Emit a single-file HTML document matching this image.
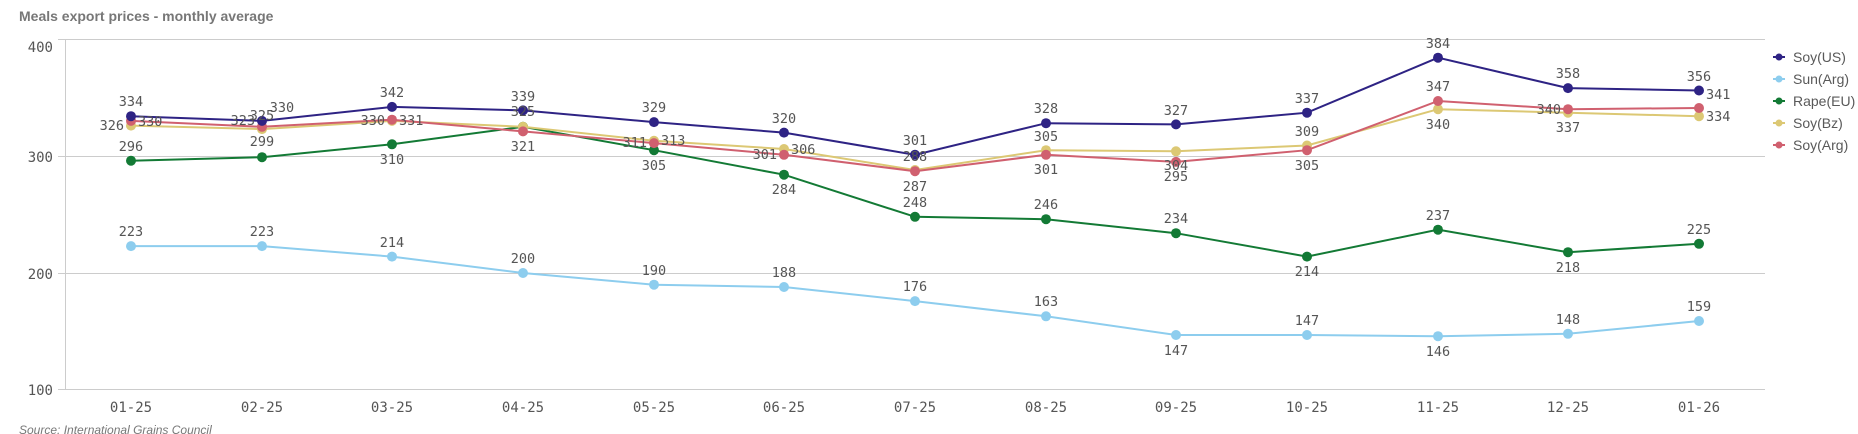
<!DOCTYPE html>
<html><head><meta charset="utf-8"><style>
body{margin:0;background:#fff;width:1858px;height:434px;overflow:hidden}
svg{display:block}
.t{font-family:"Liberation Sans",sans-serif;font-weight:bold;font-size:14px;fill:#777}
.ax{font-family:"DejaVu Sans Mono","Liberation Mono",monospace;font-size:14px;fill:#555}
.l{font-family:"DejaVu Sans Mono","Liberation Mono",monospace;font-size:13.5px;fill:#555}
.lg{font-family:"Liberation Sans",sans-serif;font-size:14px;fill:#595959}
.src{font-family:"Liberation Sans",sans-serif;font-style:italic;font-size:12px;fill:#777}
</style></head><body>
<svg width="1858" height="434" xmlns="http://www.w3.org/2000/svg">
<text class="t" x="19" y="21">Meals export prices - monthly average</text>
<g stroke="#ccc" stroke-width="1">
<line x1="58" y1="39.5" x2="1765" y2="39.5"/><line x1="58" y1="156.5" x2="1765" y2="156.5"/>
<line x1="58" y1="273.5" x2="1765" y2="273.5"/><line x1="58" y1="389.5" x2="1765" y2="389.5"/>
<line x1="65.5" y1="39" x2="65.5" y2="390"/>
</g>
<g class="ax" text-anchor="end">
<text x="53" y="52">400</text><text x="53" y="162">300</text><text x="53" y="279">200</text><text x="53" y="395">100</text>
</g>
<g class="ax" text-anchor="middle">
<text x="131" y="412">01-25</text><text x="262" y="412">02-25</text><text x="392" y="412">03-25</text><text x="523" y="412">04-25</text><text x="654" y="412">05-25</text><text x="784" y="412">06-25</text><text x="915" y="412">07-25</text><text x="1046" y="412">08-25</text><text x="1176" y="412">09-25</text><text x="1307" y="412">10-25</text><text x="1438" y="412">11-25</text><text x="1568" y="412">12-25</text><text x="1699" y="412">01-26</text>
</g>
<text class="src" x="19" y="434">Source: International Grains Council</text>

<g fill="#8dcdee"><polyline fill="none" stroke="#8dcdee" stroke-width="2" points="131,246.1 262,246.1 392,256.6 523,273 654,284.7 784,287 915,301.1 1046,316.3 1176,335 1307,335 1438,336.2 1568,333.8 1699,321"/>
<circle cx="131" cy="246.1" r="5"/><circle cx="262" cy="246.1" r="5"/><circle cx="392" cy="256.6" r="5"/><circle cx="523" cy="273" r="5"/><circle cx="654" cy="284.7" r="5"/><circle cx="784" cy="287" r="5"/><circle cx="915" cy="301.1" r="5"/><circle cx="1046" cy="316.3" r="5"/><circle cx="1176" cy="335" r="5"/><circle cx="1307" cy="335" r="5"/><circle cx="1438" cy="336.2" r="5"/><circle cx="1568" cy="333.8" r="5"/><circle cx="1699" cy="321" r="5"/></g>
<g fill="#137a35"><polyline fill="none" stroke="#137a35" stroke-width="2" points="131,160.7 262,157.2 392,144.3 523,126.8 654,150.2 784,174.7 915,216.8 1046,219.2 1176,233.2 1307,256.6 1438,229.7 1568,252.2 1699,243.8"/>
<circle cx="131" cy="160.7" r="5"/><circle cx="262" cy="157.2" r="5"/><circle cx="392" cy="144.3" r="5"/><circle cx="523" cy="126.8" r="5"/><circle cx="654" cy="150.2" r="5"/><circle cx="784" cy="174.7" r="5"/><circle cx="915" cy="216.8" r="5"/><circle cx="1046" cy="219.2" r="5"/><circle cx="1176" cy="233.2" r="5"/><circle cx="1307" cy="256.6" r="5"/><circle cx="1438" cy="229.7" r="5"/><circle cx="1568" cy="252.2" r="5"/><circle cx="1699" cy="243.8" r="5"/></g>
<g fill="#dcc874"><polyline fill="none" stroke="#dcc874" stroke-width="2" points="131,125.6 262,129.1 392,120.9 523,126.8 654,140.8 784,149 915,170 1046,150.2 1176,151.3 1307,145.5 1438,109.2 1568,112.7 1699,116.2"/>
<circle cx="131" cy="125.6" r="5"/><circle cx="262" cy="129.1" r="5"/><circle cx="392" cy="120.9" r="5"/><circle cx="523" cy="126.8" r="5"/><circle cx="654" cy="140.8" r="5"/><circle cx="784" cy="149" r="5"/><circle cx="915" cy="170" r="5"/><circle cx="1046" cy="150.2" r="5"/><circle cx="1176" cy="151.3" r="5"/><circle cx="1307" cy="145.5" r="5"/><circle cx="1438" cy="109.2" r="5"/><circle cx="1568" cy="112.7" r="5"/><circle cx="1699" cy="116.2" r="5"/></g>
<g fill="#d0606f"><polyline fill="none" stroke="#d0606f" stroke-width="2" points="131,120.9 262,126.8 392,119.7 523,131.4 654,143.1 784,154.8 915,171.2 1046,154.8 1176,161.9 1307,150.2 1438,101 1568,109.2 1699,108"/>
<circle cx="131" cy="120.9" r="5"/><circle cx="262" cy="126.8" r="5"/><circle cx="392" cy="119.7" r="5"/><circle cx="523" cy="131.4" r="5"/><circle cx="654" cy="143.1" r="5"/><circle cx="784" cy="154.8" r="5"/><circle cx="915" cy="171.2" r="5"/><circle cx="1046" cy="154.8" r="5"/><circle cx="1176" cy="161.9" r="5"/><circle cx="1307" cy="150.2" r="5"/><circle cx="1438" cy="101" r="5"/><circle cx="1568" cy="109.2" r="5"/><circle cx="1699" cy="108" r="5"/></g>
<g fill="#2e2384"><polyline fill="none" stroke="#2e2384" stroke-width="2" points="131,116.2 262,120.9 392,106.9 523,110.4 654,122.1 784,132.6 915,154.8 1046,123.2 1176,124.4 1307,112.7 1438,57.7 1568,88.1 1699,90.5"/>
<circle cx="131" cy="116.2" r="5"/><circle cx="262" cy="120.9" r="5"/><circle cx="392" cy="106.9" r="5"/><circle cx="523" cy="110.4" r="5"/><circle cx="654" cy="122.1" r="5"/><circle cx="784" cy="132.6" r="5"/><circle cx="915" cy="154.8" r="5"/><circle cx="1046" cy="123.2" r="5"/><circle cx="1176" cy="124.4" r="5"/><circle cx="1307" cy="112.7" r="5"/><circle cx="1438" cy="57.7" r="5"/><circle cx="1568" cy="88.1" r="5"/><circle cx="1699" cy="90.5" r="5"/></g>

<g class="l" text-anchor="middle">
<text x="131" y="106">334</text><text x="282" y="112">330</text><text x="392" y="97">342</text><text x="523" y="101">339</text><text x="654" y="112">329</text><text x="784" y="123">320</text><text x="915" y="145">301</text><text x="1046" y="113">328</text><text x="1176" y="115">327</text><text x="1307" y="103">337</text><text x="1438" y="48">384</text><text x="1568" y="78">358</text><text x="1699" y="81">356</text>
<text x="131" y="236">223</text><text x="262" y="236">223</text><text x="392" y="247">214</text><text x="523" y="263">200</text><text x="654" y="275">190</text><text x="784" y="277">188</text><text x="915" y="291">176</text><text x="1046" y="306">163</text><text x="1176" y="355">147</text><text x="1307" y="325">147</text><text x="1438" y="356">146</text><text x="1568" y="324">148</text><text x="1699" y="311">159</text>
<text x="131" y="151">296</text><text x="262" y="146">299</text><text x="392" y="164">310</text><text x="523" y="116">325</text><text x="654" y="170">305</text><text x="784" y="194">284</text><text x="915" y="207">248</text><text x="1046" y="209">246</text><text x="1176" y="223">234</text><text x="1307" y="276">214</text><text x="1438" y="220">237</text><text x="1568" y="272">218</text><text x="1699" y="234">225</text>
<text x="262" y="120">325</text><text x="1046" y="141">305</text><text x="1176" y="170">304</text><text x="1307" y="136">309</text><text x="1438" y="129">340</text><text x="1568" y="132">337</text><text x="915" y="161">288</text>
<text x="523" y="151">321</text><text x="915" y="191">287</text><text x="1046" y="174">301</text><text x="1176" y="181">295</text><text x="1307" y="170">305</text><text x="1438" y="91">347</text>
</g>
<g class="l" text-anchor="end">
<text x="124" y="130">326</text><text x="255" y="125">323</text><text x="385" y="125">330</text><text x="647" y="147">311</text><text x="777" y="159">301</text><text x="1561" y="114">340</text>
</g>
<g class="l" text-anchor="start">
<text x="138" y="126">330</text><text x="399" y="125">331</text><text x="661" y="145">313</text><text x="791" y="154">306</text><text x="1706" y="99">341</text><text x="1706" y="121">334</text>
</g>

<g class="lg">
<line x1="1773" y1="57" x2="1785" y2="57" stroke="#2e2384" stroke-width="2"/><circle cx="1779" cy="57" r="3.5" fill="#2e2384"/><text x="1793" y="62">Soy(US)</text>
<line x1="1773" y1="79" x2="1785" y2="79" stroke="#8dcdee" stroke-width="2"/><circle cx="1779" cy="79" r="3.5" fill="#8dcdee"/><text x="1793" y="84">Sun(Arg)</text>
<line x1="1773" y1="101" x2="1785" y2="101" stroke="#137a35" stroke-width="2"/><circle cx="1779" cy="101" r="3.5" fill="#137a35"/><text x="1793" y="106">Rape(EU)</text>
<line x1="1773" y1="123" x2="1785" y2="123" stroke="#dcc874" stroke-width="2"/><circle cx="1779" cy="123" r="3.5" fill="#dcc874"/><text x="1793" y="128">Soy(Bz)</text>
<line x1="1773" y1="145" x2="1785" y2="145" stroke="#d0606f" stroke-width="2"/><circle cx="1779" cy="145" r="3.5" fill="#d0606f"/><text x="1793" y="150">Soy(Arg)</text>
</g>
</svg>
</body></html>
